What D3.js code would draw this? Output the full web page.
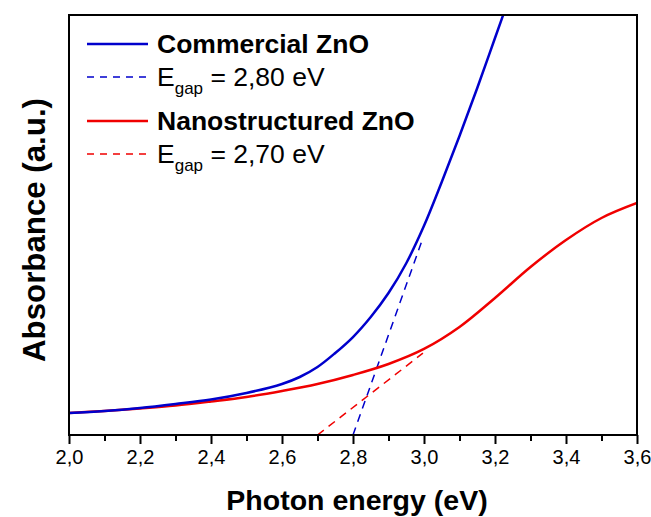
<!DOCTYPE html>
<html>
<head>
<meta charset="utf-8">
<script src="https://cdn.jsdelivr.net/npm/d3@7"></script>
<style>
  html, body { margin: 0; padding: 0; background: #fff; }
  svg { display: block; }
  text { font-family: "Liberation Sans", Arial, sans-serif; }
</style>
</head>
<body>
<svg id="chart" width="651" height="517"></svg>
<script>
// ---- data ----
const energyCommercial = [2.00, 2.10, 2.20, 2.30, 2.40, 2.50, 2.60, 2.65, 2.70, 2.75, 2.80, 2.85, 2.90, 2.95, 3.00, 3.05, 3.10, 3.15, 3.20, 3.25];
const absCommercial    = [0.0524, 0.0571, 0.0643, 0.0738, 0.0845, 0.100, 0.1214, 0.1381, 0.1619, 0.1952, 0.2333, 0.281, 0.338, 0.409, 0.498, 0.6024, 0.7119, 0.8262, 0.9452, 1.0643];
const energyNano = [2.00, 2.10, 2.20, 2.30, 2.40, 2.50, 2.60, 2.70, 2.80, 2.90, 3.00, 3.10, 3.20, 3.30, 3.40, 3.50, 3.60];
const absNano    = [0.0524, 0.0571, 0.0631, 0.0702, 0.0798, 0.0905, 0.1048, 0.1214, 0.1429, 0.169, 0.2048, 0.2571, 0.3262, 0.400, 0.4643, 0.5167, 0.5524];
const fitCommercialX = [2.80, 2.994];
const fitCommercialY = [0.0, 0.462];
const fitNanoX = [2.70, 2.997];
const fitNanoY = [0.0, 0.195];
const xTicks = [2.0, 2.2, 2.4, 2.6, 2.8, 3.0, 3.2, 3.4, 3.6];
const xMinorTicks = [2.1, 2.3, 2.5, 2.7, 2.9, 3.1, 3.3, 3.5];
const legendLabels = ["Commercial ZnO", "2,80 eV", "Nanostructured ZnO", "2,70 eV"];

// ---- layout ----
const svg = d3.select("#chart");
const L = 69, R = 637, T = 15, B = 435;
const x = d3.scaleLinear().domain([2.0, 3.6]).range([L, R]);
const y = d3.scaleLinear().domain([0, 1]).range([B, T]);
const blue = "#0000cc", red = "#f00000";

const clip = svg.append("defs").append("clipPath").attr("id", "clip");
clip.append("rect").attr("x", L).attr("y", T).attr("width", R - L).attr("height", B - T);

const line = d3.line().x(d => x(d[0])).y(d => y(d[1])).curve(d3.curveCatmullRom.alpha(0.5));
const straight = d3.line().x(d => x(d[0])).y(d => y(d[1]));
const plot = svg.append("g").attr("clip-path", "url(#clip)");
const zip = (a, b) => a.map((v, i) => [v, b[i]]);

plot.append("path").datum(zip(fitCommercialX, fitCommercialY))
  .attr("d", straight).attr("fill", "none").attr("stroke", blue)
  .attr("stroke-width", 1.5).attr("stroke-dasharray", "8,6");
plot.append("path").datum(zip(fitNanoX, fitNanoY))
  .attr("d", straight).attr("fill", "none").attr("stroke", red)
  .attr("stroke-width", 1.5).attr("stroke-dasharray", "8,6");

plot.append("path").datum(zip(energyNano, absNano))
  .attr("d", line).attr("fill", "none").attr("stroke", red).attr("stroke-width", 2.5);
plot.append("path").datum(zip(energyCommercial, absCommercial))
  .attr("d", line).attr("fill", "none").attr("stroke", blue).attr("stroke-width", 2.5);

// frame
svg.append("rect").attr("x", L).attr("y", T).attr("width", R - L).attr("height", B - T)
  .attr("fill", "none").attr("stroke", "#000").attr("stroke-width", 2);

// bottom axis
const axisMajor = d3.axisBottom(x).tickValues(xTicks).tickSize(9).tickPadding(6)
  .tickFormat(d => d3.format(".1f")(d).replace(".", ","));
const gx = svg.append("g").attr("transform", `translate(0,${B})`).call(axisMajor);
gx.select(".domain").remove();
gx.selectAll(".tick line").attr("stroke", "#000").attr("stroke-width", 2);
gx.selectAll(".tick text").attr("font-size", 20).attr("fill", "#000")
  .style("font-family", '"Liberation Sans", Arial, sans-serif');
const axisMinor = d3.axisBottom(x).tickValues(xMinorTicks).tickSize(6).tickFormat("");
const gm = svg.append("g").attr("transform", `translate(0,${B})`).call(axisMinor);
gm.select(".domain").remove();
gm.selectAll(".tick line").attr("stroke", "#000").attr("stroke-width", 2);

// axis titles
svg.append("text").attr("x", 357).attr("y", 510).attr("text-anchor", "middle")
  .attr("font-size", 28.5).attr("font-weight", "bold").text("Photon energy (eV)");
svg.append("text").attr("transform", "translate(45,230) rotate(-90)").attr("text-anchor", "middle")
  .attr("font-size", 31).attr("font-weight", "bold")
  .attr("textLength", 264).attr("lengthAdjust", "spacingAndGlyphs")
  .text("Absorbance (a.u.)");

// legend
const lg = svg.append("g");
const rows = [
  {y: 44, color: blue, dash: null, label: legendLabels[0], bold: true},
  {y: 77, color: blue, dash: "7,6", label: legendLabels[1], bold: false, egap: true},
  {y: 121, color: red, dash: null, label: legendLabels[2], bold: true},
  {y: 154, color: red, dash: "7,6", label: legendLabels[3], bold: false, egap: true}
];
rows.forEach(r => {
  lg.append("line").attr("x1", 87).attr("x2", 148).attr("y1", r.y).attr("y2", r.y)
    .attr("stroke", r.color).attr("stroke-width", r.dash ? 1.5 : 2.5)
    .attr("stroke-dasharray", r.dash);
  const t = lg.append("text").attr("x", 157).attr("y", r.y + 9).attr("font-size", 26.5)
    .attr("font-weight", r.bold ? "bold" : "normal").attr("fill", "#000");
  if (r.egap) {
    t.append("tspan").text("E");
    t.append("tspan").attr("font-size", 17).attr("dy", 8).text("gap");
    t.append("tspan").attr("dy", -8).text(" = " + r.label);
  } else {
    t.text(r.label);
  }
});
</script>
</body>
</html>
